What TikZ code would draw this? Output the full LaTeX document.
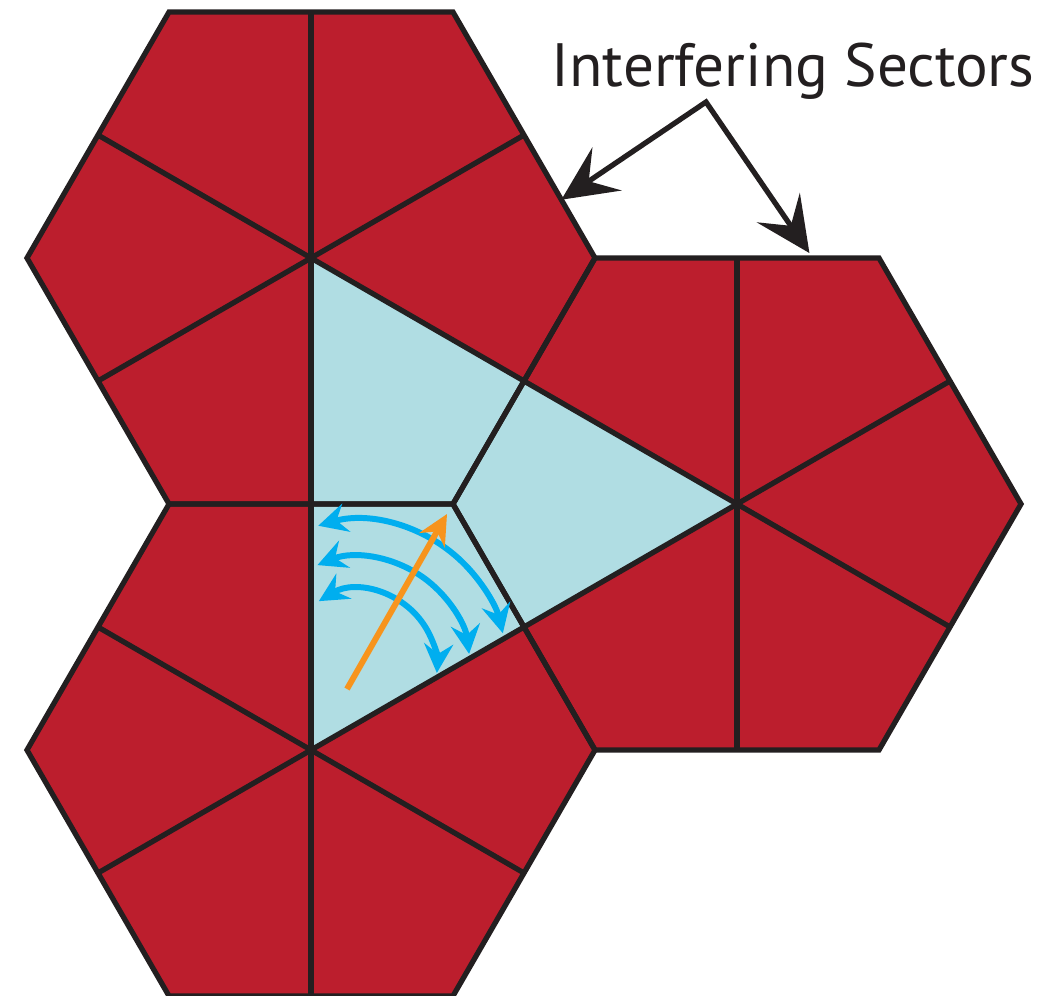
\documentclass[tikz,border=0pt]{standalone}
\usepackage{fontspec}
\setsansfont{PT Sans}
\usepackage{tikz}
\usetikzlibrary{arrows.meta,calc}
\definecolor{sectorred}{RGB}{188, 30, 45}
\definecolor{paleblue}{RGB}{176, 221, 227}
\definecolor{inkblack}{RGB}{35, 31, 32}
\definecolor{skyblue}{RGB}{0, 174, 239}
\definecolor{beamorange}{RGB}{247, 148, 29}

\begin{document}
\begin{tikzpicture}[
    cellline/.style={draw=inkblack, line width=1.5pt},
    callout/.style={draw=inkblack, line width=1.5pt, line join=miter,
        arrows={Stealth[length=5.5mm,width=5.2mm,inset=2.2mm]-Stealth[length=5.5mm,width=5.2mm,inset=2.2mm]}},
    sweep/.style={draw=skyblue, line width=1.7pt,
        arrows={Stealth[length=2.9mm,width=2.9mm,inset=1mm]-Stealth[length=2.9mm,width=2.9mm,inset=1mm]}},
    beam/.style={draw=beamorange, line width=1.7pt,
        -{Stealth[length=3mm,width=2.9mm,inset=1mm]}}
]
    \useasboundingbox (0,0) rectangle (10.63,-9.95);
    \def\rad{2.84}
    % Hexagon centres
    \coordinate (c1) at (3.11,-2.58);
    \coordinate (c2) at (7.37,-5.04);
    \coordinate (c3) at (3.11,-7.50);
    \foreach \i in {1,2,3}
        \foreach \a in {0,60,...,300}
            \path (c\i) ++(\a:\rad) coordinate (h\i-\a);
    % Red cells
    \foreach \i in {1,2,3}
        \fill[sectorred] (h\i-0) -- (h\i-60) -- (h\i-120) -- (h\i-180) -- (h\i-240) -- (h\i-300) -- cycle;
    % Shared triangle between the centres
    \fill[paleblue] (c1) -- (c2) -- (c3) -- cycle;
    % Spokes to the edge midpoints
    \foreach \i in {1,2,3}
        \foreach \a in {30,90,...,330}
            \draw[cellline] (c\i) -- ($(c\i)+(\a:2.46)$);
    % Outlines
    \foreach \i in {1,2,3}
        \draw[cellline] (h\i-0) -- (h\i-60) -- (h\i-120) -- (h\i-180) -- (h\i-240) -- (h\i-300) -- cycle;

    % Label with its two pointers
    \node[font=\sffamily\fontsize{17.4}{20}\selectfont, text=inkblack, anchor=base west, inner sep=0pt] (label) at (5.51,-0.86) {Interfering Sectors};
    \coordinate (fork) at (7.06,-1.02);
    \coordinate (hitA) at ($(h1-60)!0.763!(h1-0)$);
    \coordinate (hitB) at ($(h2-120)!0.755!(h2-60)+(0,0.05)$);
    \draw[callout] (hitA) -- (fork) -- (hitB);

    % Beam and its sweeps
    \coordinate (src) at (3.47,-6.89);
    \coordinate (tip) at (4.47,-5.14);
    \coordinate (pivot) at ($(src)!0.12!(tip)$);
    \draw[sweep] ($(pivot)+(106:1.48)$) arc[start angle=106, end angle=13.6, radius=1.48];
    \draw[sweep] ($(pivot)+(112:1.11)$) arc[start angle=112, end angle=7.3, radius=1.11];
    \draw[sweep] ($(pivot)+(121:0.78)$) arc[start angle=121, end angle=-3.6, radius=0.78];
    \draw[beam] (src) -- (tip);
\end{tikzpicture}
\end{document}
